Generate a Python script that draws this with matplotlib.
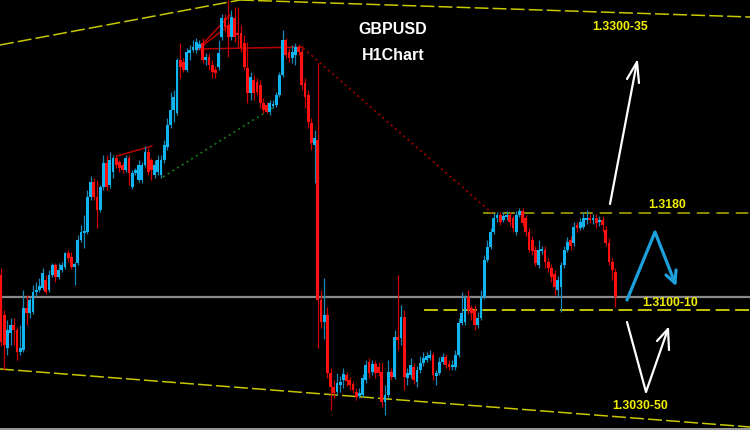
import numpy as np
import matplotlib.pyplot as plt

plt.rcParams['lines.scale_dashes'] = False

W, H = 750, 430

# GBPUSD H1 candles, prices in points (price * 10000)
open_pts = [
    13118, 13078, 13045, 13060, 13068, 13063, 13041, 13043, 13085, 13080,
    13081, 13101, 13103, 13105, 13113, 13103, 13118, 13128, 13116, 13123,
    13126, 13140, 13136, 13126, 13130, 13153, 13160, 13161, 13196, 13211,
    13196, 13183, 13206, 13230, 13208, 13221, 13235, 13231, 13228, 13223,
    13235, 13206, 13220, 13213, 13213, 13228, 13241, 13233, 13218, 13221,
    13218, 13233, 13246, 13268, 13283, 13280, 13333, 13331, 13323, 13340,
    13343, 13343, 13345, 13350, 13333, 13336, 13328, 13323, 13326, 13356,
    13375, 13368, 13356, 13375, 13360, 13360, 13350, 13325, 13300, 13313,
    13311, 13308, 13290, 13288, 13281, 13287, 13288, 13298, 13318, 13353,
    13341, 13335, 13338, 13346, 13341, 13310, 13298, 13270, 13248, 13253,
    13093, 13071, 13078, 13020, 13006, 13001, 13008, 13013, 13018, 13013,
    13009, 13001, 12997, 12998, 13013, 13031, 13021, 13029, 13026, 13021,
    12991, 12998, 13021, 13016, 13056, 13055, 13076, 13015, 13018, 13026,
    13011, 13023, 13030, 13033, 13035, 13038, 13017, 13020, 13031, 13036,
    13029, 13026, 13026, 13038, 13070, 13071, 13096, 13085, 13083, 13068,
    13075, 13096, 13133, 13146, 13161, 13175, 13178, 13173, 13176, 13178,
    13175, 13161, 13178, 13182, 13175, 13161, 13153, 13143, 13128, 13142,
    13143, 13131, 13125, 13119, 13103, 13106, 13128, 13143, 13153, 13150,
    13168, 13165, 13166, 13173, 13175, 13173, 13175, 13171, 13173, 13163,
    13150, 13131, 13121,
]
close_pts = [
    13051, 13048, 13063, 13068, 13063, 13041, 13045, 13085, 13080, 13093,
    13101, 13103, 13107, 13120, 13101, 13118, 13128, 13116, 13123, 13128,
    13140, 13135, 13126, 13129, 13153, 13161, 13162, 13196, 13211, 13196,
    13183, 13206, 13230, 13206, 13233, 13235, 13228, 13225, 13223, 13235,
    13220, 13220, 13223, 13228, 13228, 13241, 13221, 13223, 13228, 13233,
    13233, 13248, 13268, 13283, 13296, 13333, 13326, 13323, 13341, 13343,
    13346, 13351, 13349, 13333, 13336, 13328, 13321, 13320, 13340, 13375,
    13366, 13356, 13376, 13356, 13358, 13345, 13326, 13300, 13316, 13300,
    13301, 13290, 13283, 13281, 13290, 13289, 13298, 13318, 13353, 13338,
    13335, 13341, 13346, 13341, 13308, 13296, 13271, 13250, 13255, 13093,
    13071, 13078, 13020, 13006, 13000, 13010, 13011, 13019, 13012, 13008,
    13003, 12996, 13000, 13015, 13028, 13020, 13029, 13020, 13020, 12991,
    12998, 13021, 13016, 13056, 13053, 13076, 13016, 13020, 13028, 13013,
    13023, 13030, 13035, 13037, 13038, 13018, 13020, 13031, 13036, 13028,
    13026, 13028, 13038, 13070, 13080, 13095, 13083, 13080, 13068, 13075,
    13096, 13133, 13146, 13161, 13175, 13178, 13171, 13177, 13178, 13171,
    13165, 13178, 13182, 13170, 13161, 13143, 13142, 13130, 13143, 13143,
    13131, 13125, 13116, 13106, 13113, 13128, 13143, 13151, 13147, 13166,
    13165, 13171, 13175, 13175, 13173, 13175, 13170, 13173, 13168, 13150,
    13131, 13123, 13096,
]
high_pts = [
    13125, 13083, 13073, 13075, 13075, 13066, 13068, 13103, 13098, 13095,
    13108, 13111, 13115, 13125, 13118, 13123, 13130, 13130, 13130, 13131,
    13141, 13143, 13141, 13131, 13158, 13168, 13178, 13203, 13217, 13215,
    13213, 13208, 13238, 13238, 13241, 13238, 13238, 13233, 13231, 13238,
    13238, 13223, 13225, 13233, 13231, 13247, 13245, 13235, 13233, 13238,
    13238, 13253, 13275, 13301, 13303, 13335, 13350, 13335, 13345, 13348,
    13353, 13355, 13353, 13355, 13340, 13340, 13333, 13327, 13353, 13379,
    13379, 13393, 13383, 13386, 13386, 13368, 13358, 13351, 13321, 13318,
    13315, 13313, 13295, 13291, 13293, 13293, 13301, 13321, 13363, 13355,
    13345, 13348, 13350, 13349, 13345, 13315, 13303, 13275, 13263, 13330,
    13103, 13115, 13086, 13025, 13013, 13020, 13017, 13025, 13021, 13016,
    13012, 13005, 13005, 13019, 13033, 13035, 13033, 13033, 13031, 13030,
    13008, 13033, 13025, 13063, 13118, 13088, 13083, 13025, 13035, 13030,
    13027, 13037, 13041, 13041, 13043, 13041, 13023, 13036, 13040, 13039,
    13033, 13033, 13043, 13075, 13101, 13098, 13103, 13088, 13088, 13081,
    13103, 13138, 13153, 13165, 13180, 13181, 13181, 13181, 13182, 13181,
    13178, 13182, 13185, 13185, 13178, 13165, 13157, 13147, 13153, 13147,
    13147, 13135, 13129, 13123, 13117, 13131, 13147, 13156, 13157, 13171,
    13171, 13175, 13181, 13183, 13179, 13179, 13179, 13177, 13177, 13167,
    13155, 13135, 13125,
]
low_pts = [
    13047, 13023, 13038, 13048, 13048, 13033, 13038, 13041, 13068, 13075,
    13079, 13097, 13101, 13103, 13099, 13101, 13116, 13111, 13114, 13121,
    13124, 13131, 13124, 13108, 13128, 13151, 13145, 13159, 13193, 13193,
    13165, 13181, 13203, 13203, 13205, 13215, 13225, 13221, 13220, 13221,
    13208, 13204, 13218, 13211, 13210, 13226, 13218, 13213, 13215, 13218,
    13215, 13230, 13243, 13265, 13271, 13278, 13315, 13321, 13321, 13333,
    13341, 13340, 13343, 13330, 13328, 13323, 13315, 13315, 13323, 13353,
    13361, 13336, 13353, 13351, 13345, 13341, 13323, 13290, 13293, 13293,
    13298, 13285, 13280, 13280, 13278, 13285, 13286, 13296, 13316, 13335,
    13331, 13330, 13328, 13338, 13303, 13285, 13265, 13243, 13210, 13045,
    13065, 13054, 13015, 12983, 12995, 12998, 13001, 13005, 13007, 13003,
    13000, 12993, 12995, 12996, 13010, 13015, 13018, 13015, 13017, 12986,
    12978, 12995, 13013, 13014, 13043, 13048, 13003, 13008, 13015, 13009,
    13006, 13020, 13027, 13031, 13033, 13013, 13008, 13018, 13029, 13025,
    13023, 13023, 13023, 13036, 13068, 13068, 13079, 13073, 13063, 13065,
    13073, 13094, 13131, 13144, 13159, 13171, 13168, 13171, 13173, 13167,
    13161, 13158, 13176, 13167, 13157, 13141, 13138, 13127, 13125, 13139,
    13125, 13121, 13111, 13098, 13096, 13081, 13125, 13141, 13143, 13147,
    13161, 13163, 13164, 13169, 13170, 13169, 13165, 13167, 13161, 13147,
    13128, 13113, 13086,
]

# horizontal levels (price)
resistance = 1.3180
grey_level = 1.3096
support = 1.3083

title_lines = ['GBPUSD', 'H1Chart']
target_labels = ['1.3300-35', '1.3180', '1.3100-10', '1.3030-50']

o = np.array(open_pts) / 1e4
c = np.array(close_pts) / 1e4
hi = np.array(high_pts) / 1e4
lo = np.array(low_pts) / 1e4
idx = np.arange(len(o))
up = c >= o

BULL, BEAR = '#12b4f0', '#ff1010'
BULL_WICK, BEAR_WICK = '#1888b4', '#d00000'

fig = plt.figure(figsize=(W / 100, H / 100), dpi=100, facecolor='black')
ax = fig.add_axes([0, 0, 1, 1])
ax.set_facecolor('black')
ax.set_xlim(-1 / 3.2, 749 / 3.2)
ax.set_ylim(1.2963, 1.3393)
ax.set_xticks([])
ax.set_yticks([])
for s in ax.spines.values():
    s.set_visible(False)


def pos(x, y):
    return x / W, 1 - y / H


def seg(pts, **kw):
    xs, ys = zip(*[pos(*p) for p in pts])
    ax.plot(xs, ys, transform=ax.transAxes, solid_capstyle='round', **kw)


# channel lines
dash = (0, (10, 3))
seg([(0, 45), (240, 0)], color='#c8c800', lw=1.1, ls=dash)
seg([(240, 0), (750, 17)], color='#c8c800', lw=1.1, ls=dash)
seg([(0, 369), (750, 427)], color='#c8c800', lw=1.1, ls=dash)

# levels
ax.axhline(grey_level, color='#8a8a8a', lw=1.6, zorder=1)
ax.axhline(resistance, xmin=483 / W, color='#8c8c00', lw=1.4, ls=(0, (9, 5)), zorder=1)
ax.axhline(support, xmin=424 / W, color='#e6e600', lw=1.2, ls=(0, (10, 4)), zorder=1)
seg([(0, 428.5), (750, 428.5)], color='#9a9a9a', lw=1.4)

# pattern lines
seg([(303, 48), (492, 213)], color='#a00000', lw=1.2, ls=(0, (1.5, 2.5)))
seg([(163, 177), (277, 105)], color='#1a7a1a', lw=1.2, ls=(0, (1.5, 2.5)))
seg([(117, 156), (152, 146)], color='#b80000', lw=1.1)
seg([(197, 50), (230, 15)], color='#b80000', lw=1.1)
seg([(197, 50), (232, 23)], color='#b80000', lw=1.1)
seg([(197, 49), (303, 47)], color='#b80000', lw=1.1)

# candles
ax.vlines(idx[up], lo[up], hi[up], color=BULL_WICK, lw=0.9, zorder=3)
ax.vlines(idx[~up], lo[~up], hi[~up], color=BEAR_WICK, lw=0.9, zorder=3)
body_lo = np.minimum(o, c)
body_h = np.maximum(np.abs(c - o), 0.00015)
ax.bar(idx[up], body_h[up], bottom=body_lo[up], width=0.88, color=BULL,
       lw=0, zorder=4)
ax.bar(idx[~up], body_h[~up], bottom=body_lo[~up], width=0.88, color=BEAR,
       lw=0, zorder=4)

# scenario arrows
seg([(610, 204), (637, 62)], color='white', lw=1.6)
seg([(627, 79), (637, 62), (639, 83)], color='white', lw=1.6)
seg([(627, 300), (655, 232), (675, 283)], color='#1ea0dc', lw=2.3)
seg([(666, 275), (675, 283), (676, 270)], color='#1ea0dc', lw=2.3)
seg([(627, 322), (646, 392), (668, 329)], color='white', lw=1.6)
seg([(657, 341), (668, 329), (669, 350)], color='white', lw=1.6)

# text
tfont = dict(family='Liberation Sans', weight='bold', ha='center', va='center',
             transform=ax.transAxes)
ax.text(*pos(393, 30), title_lines[0], color='white', fontsize=11.5, **tfont)
ax.text(*pos(393, 55), title_lines[1], color='white', fontsize=11.5, **tfont)
label_xy = [(620, 27), (667, 205), (670, 303), (640, 406)]
for (lx, ly), txt in zip(label_xy, target_labels):
    ax.text(*pos(lx, ly), txt, color='#f2ef00', fontsize=8.8, **tfont)

fig.savefig('out.png', dpi=100, facecolor='black')
